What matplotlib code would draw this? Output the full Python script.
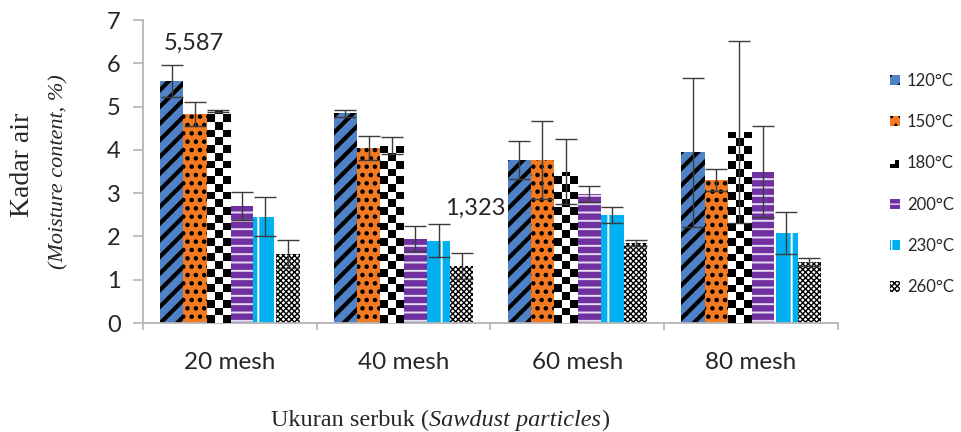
import numpy as np
import matplotlib
matplotlib.use('Agg')
import matplotlib.pyplot as plt
from matplotlib.patches import Patch, Rectangle
from matplotlib.legend_handler import HandlerPatch

# moisture content of sawdust by particle size and drying temperature
mesh = ['20 mesh', '40 mesh', '60 mesh', '80 mesh']
temps = ['120°C', '150°C', '180°C', '200°C', '230°C', '260°C']

mc_120 = [5.587, 4.85, 3.77, 3.94]
mc_150 = [4.83, 4.04, 3.77, 3.30]
mc_180 = [4.90, 4.10, 3.50, 4.41]
mc_200 = [2.70, 1.95, 2.98, 3.50]
mc_230 = [2.45, 1.90, 2.49, 2.08]
mc_260 = [1.60, 1.323, 1.85, 1.41]

sd_120 = [0.37, 0.08, 0.44, 1.73]
sd_150 = [0.28, 0.28, 0.90, 0.26]
sd_180 = [0.03, 0.20, 0.75, 2.10]
sd_200 = [0.33, 0.28, 0.18, 1.05]
sd_230 = [0.45, 0.38, 0.18, 0.48]
sd_260 = [0.32, 0.30, 0.06, 0.10]

values = [mc_120, mc_150, mc_180, mc_200, mc_230, mc_260]
errors = [sd_120, sd_150, sd_180, sd_200, sd_230, sd_260]

# face colour, hatch colour, hatch, hatch width per series
styles = [
    ('#4f81c7', 'black', '//', 3.0),
    ('#f47a22', 'black', '..', 2.0),
    ('white', 'white', '', 1.0),       # checkerboard drawn as image
    ('#7030a0', '#e6dcf0', '--', 1.4),
    ('#00b0f0', 'white', '|', 1.4),
    ('white', 'black', 'xxxxxx', 1.0),
]

W, H = 961, 432
fig = plt.figure(figsize=(W / 100, H / 100), dpi=100)
ax = fig.add_axes([143 / W, 1 - 323 / H, (838 - 143) / W, (323 - 20) / H])

x = np.arange(len(mesh))
width = 0.134
spine_gray = '#b4b4b4'
err_kw = dict(ecolor='#3c3c3c', elinewidth=1.0, capsize=8, capthick=1.0, zorder=4)

all_bars = []
for k, (vals, errs) in enumerate(zip(values, errors)):
    face, hcol, hatch, hlw = styles[k]
    plt.rcParams['hatch.linewidth'] = hlw
    bars = ax.bar(x + (k - 2.5) * width, vals, width, yerr=errs, color=face,
                  edgecolor=hcol, linewidth=0, hatch=hatch, error_kw=err_kw, zorder=2)
    for b in bars:
        if hasattr(b, 'set_hatch_linewidth'):
            b.set_hatch_linewidth(hlw)
    all_bars.append(bars)

# large black/white checkerboard for the 180°C bars
cell_y = 7.7 / 43.3
for b in all_bars[2]:
    x0, w, h = b.get_x(), b.get_width(), b.get_height()
    rows = int(np.ceil(h / cell_y)) + 1
    board = (np.add.outer(np.arange(rows), np.arange(3)) % 2).astype(float)
    im = ax.imshow(board, cmap='gray', origin='lower', interpolation='nearest',
                   extent=[x0, x0 + w, 0, rows * cell_y], aspect='auto', zorder=3)
    im.set_clip_path(b)

ax.set_xlim(-0.5, 3.5)
ax.set_ylim(0, 7)

ax.annotate('5,587', xy=(-0.21, 6.47), ha='center', va='center',
            fontsize=17, family='Lato', color='#262626')
ax.annotate('1,323', xy=(1.414, 2.66), ha='center', va='center',
            fontsize=17, family='Lato', color='#262626')

# axes styling
for s in ['top', 'right']:
    ax.spines[s].set_visible(False)
for s in ['left', 'bottom']:
    ax.spines[s].set_color(spine_gray)
    ax.spines[s].set_linewidth(1.3)

ax.set_yticks(range(8))
ax.tick_params(axis='y', length=7, width=1.2, color=spine_gray, pad=9,
               labelsize=17, labelcolor='#262626')
ax.set_xticks(np.arange(-0.5, 4, 1))
ax.set_xticklabels([])
ax.tick_params(axis='x', which='major', length=5, width=1.2, color=spine_gray)
ax.set_xticks(x, minor=True)
ax.set_xticklabels(mesh, minor=True)
ax.tick_params(axis='x', which='minor', length=0, pad=21,
               labelsize=17.5, labelcolor='#262626')
for lbl in ax.get_xticklabels(minor=True) + ax.get_yticklabels():
    lbl.set_family('Lato')


class CheckerHandler(HandlerPatch):
    def create_artists(self, legend, orig_handle, xdescent, ydescent,
                       width, height, fontsize, trans):
        a = Rectangle((-xdescent, -ydescent), width * 0.65, height * 0.35,
                      facecolor='black', transform=trans)
        b = Rectangle((-xdescent + width * 0.5, -ydescent), width * 0.35, height * 0.75,
                      facecolor='black', transform=trans)
        return [a, b]


handles = []
for k, (face, hcol, hatch, hlw) in enumerate(styles):
    p = Patch(facecolor=face, edgecolor=hcol, linewidth=0, hatch=hatch)
    if hasattr(p, 'set_hatch_linewidth'):
        p.set_hatch_linewidth(min(hlw, 1.5))
    handles.append(p)

fig.legend(handles, temps, loc='center left', bbox_to_anchor=(882 / W, 1 - 184 / H),
           frameon=False, prop={'family': 'Lato', 'size': 12}, labelcolor='#262626',
           handlelength=0.6, handleheight=0.6, handletextpad=0.4,
           labelspacing=1.52, borderpad=0,
           handler_map={handles[2]: CheckerHandler()})

# axis titles in serif, mixing upright and italic parts
fig.text(23 / W, 1 - 165 / H, 'Kadar air', rotation=90, ha='center', va='center',
         family='Liberation Serif', fontsize=20, color='#262626')
fig.text(59 / W, 1 - 172 / H, '(Moisture content, %)', rotation=90, ha='center',
         va='center', family='Liberation Serif', fontstyle='italic', fontsize=16,
         color='#262626')

renderer = fig.canvas.get_renderer()
pieces = [('Ukuran serbuk (', 'normal'), ('Sawdust particles', 'italic'), (')', 'normal')]
texts = [fig.text(0, 1 - 426 / H, s, fontstyle=st, family='Liberation Serif',
                  fontsize=17.5, va='baseline', color='#262626') for s, st in pieces]
widths = [t.get_window_extent(renderer).width for t in texts]
xpos = 440 - sum(widths) / 2
for t, w in zip(texts, widths):
    t.set_x(xpos / W)
    xpos += w

plt.savefig('out.png', dpi=100)
plt.close()
